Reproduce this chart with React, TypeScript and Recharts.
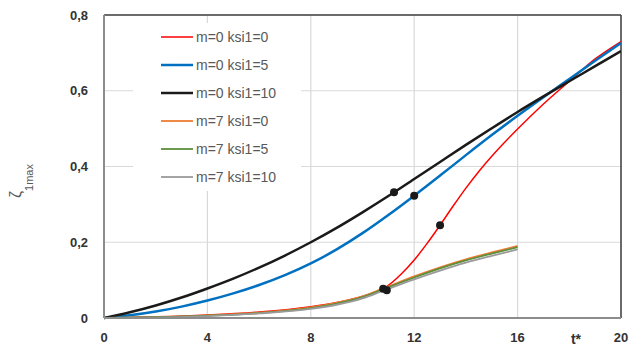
import React from "react";
import {
  ComposedChart,
  Line,
  Scatter,
  XAxis,
  YAxis,
  CartesianGrid,
  ReferenceLine,
  Label,
} from "recharts";

// t* values and zeta_1max readings per series
const tRed = [0, 2, 4, 6, 8, 9, 10, 10.8, 11, 11.5, 12, 12.5, 13, 13.5, 14, 14.5, 15, 15.5, 16, 17, 18, 19, 20];
const vRed = [0, 0.003, 0.008, 0.016, 0.03, 0.041, 0.057, 0.077, 0.086, 0.116, 0.153, 0.197, 0.245, 0.295, 0.343, 0.387, 0.427, 0.464, 0.499, 0.565, 0.625, 0.684, 0.73];

const tBlue = [0, 1, 2, 3, 4, 5, 6, 7, 8, 9, 10, 11, 12, 13, 14, 15, 16, 17, 18, 19, 20];
const vBlue = [0, 0.007, 0.017, 0.03, 0.046, 0.065, 0.087, 0.113, 0.144, 0.181, 0.224, 0.272, 0.323, 0.376, 0.43, 0.483, 0.534, 0.583, 0.631, 0.679, 0.726];

const tBlack = [0, 1, 2, 3, 4, 5, 6, 7, 8, 9, 10, 11, 12, 13, 14, 15, 16, 17, 18, 19, 20];
const vBlack = [0, 0.015, 0.033, 0.054, 0.078, 0.104, 0.133, 0.165, 0.2, 0.238, 0.279, 0.322, 0.367, 0.412, 0.457, 0.501, 0.544, 0.585, 0.625, 0.665, 0.705];

const tM7 = [0, 2, 4, 6, 8, 9, 10, 10.8, 12, 13, 14, 15, 16];
const vOrange = [0, 0.002, 0.007, 0.014, 0.028, 0.04, 0.057, 0.078, 0.11, 0.134, 0.155, 0.173, 0.19];
const vGreen = [0, 0.002, 0.006, 0.013, 0.026, 0.038, 0.055, 0.076, 0.107, 0.131, 0.152, 0.17, 0.187];
const vGray = [0, 0.001, 0.005, 0.012, 0.024, 0.035, 0.052, 0.072, 0.102, 0.125, 0.146, 0.164, 0.181];

// marked points
const tMarks = [10.8, 10.94, 11.22, 12, 13];
const vMarks = [0.077, 0.073, 0.332, 0.323, 0.245];

const xTicks = [0, 4, 8, 12, 16, 20];
const yTicks = [0, 0.2, 0.4, 0.6, 0.8];

const pts = (ts: number[], vs: number[]) => ts.map((t, i) => ({ t, v: vs[i] }));

const series = [
  { name: "m=0 ksi1=0", color: "#ff0000", width: 1.5, data: pts(tRed, vRed) },
  { name: "m=0 ksi1=5", color: "#0070c0", width: 2.5, data: pts(tBlue, vBlue) },
  { name: "m=0 ksi1=10", color: "#1a1a1a", width: 2.5, data: pts(tBlack, vBlack) },
  { name: "m=7 ksi1=0", color: "#ed7d31", width: 1.8, data: pts(tM7, vOrange) },
  { name: "m=7 ksi1=5", color: "#5b8f3a", width: 1.8, data: pts(tM7, vGreen) },
  { name: "m=7 ksi1=10", color: "#9a9a9a", width: 1.8, data: pts(tM7, vGray) },
];

const marks = pts(tMarks, vMarks);

const font = "'Liberation Sans', Arial, sans-serif";

function LegendBox() {
  return (
    <div
      style={{
        position: "absolute",
        left: 133,
        top: 23,
        width: 168,
        background: "#fff",
        paddingLeft: 28,
        boxSizing: "border-box",
      }}
    >
      {series.map((s) => (
        <div key={s.name} style={{ height: 28, display: "flex", alignItems: "center" }}>
          <svg width={32} height={6}>
            <line x1={0} y1={3} x2={32} y2={3} stroke={s.color} strokeWidth={s.width} />
          </svg>
          <span style={{ marginLeft: 3, fontSize: 14, color: "#595959", fontFamily: font, whiteSpace: "nowrap" }}>
            {s.name}
          </span>
        </div>
      ))}
    </div>
  );
}

export default function App() {
  return (
    <div style={{ position: "absolute", left: 0, top: 0, width: 631, height: 348, background: "#fff" }}>
      <ComposedChart width={631} height={348} margin={{ top: 15, right: 10, left: 0, bottom: 0 }}>
        <CartesianGrid stroke="#d9d9d9" strokeWidth={1.2} />
        <XAxis
          dataKey="t"
          type="number"
          domain={[0, 20]}
          ticks={xTicks}
          height={30}
          axisLine={{ stroke: "#8c8c8c", strokeWidth: 2 }}
          tickLine={false}
          tickSize={0}
          tickMargin={15}
          tick={{ fontSize: 13, fontWeight: 700, fill: "#333", fontFamily: font }}
          allowDataOverflow
        >
          <Label
            content={() => (
              <text x={576} y={344} textAnchor="middle" fontSize={14} fontWeight={700} fill="#333" fontFamily={font}>
                t*
              </text>
            )}
          />
        </XAxis>
        <YAxis
          type="number"
          domain={[0, 0.8]}
          ticks={yTicks}
          width={104}
          axisLine={{ stroke: "#8c8c8c", strokeWidth: 2 }}
          tickLine={false}
          tickSize={0}
          tickMargin={16}
          tickFormatter={(v: number) => String(v).replace(".", ",")}
          tick={{ fontSize: 13, fontWeight: 700, fill: "#333", fontFamily: font }}
        >
          <Label
            content={() => (
              <text transform="translate(21,198) rotate(-90)" fill="#595959" fontFamily={font}>
                <tspan fontSize={16}>ζ</tspan>
                <tspan fontSize={11} dy={12}>1max</tspan>
              </text>
            )}
          />
        </YAxis>
        <ReferenceLine y={0.8} stroke="#404040" strokeWidth={1.5} />
        <ReferenceLine x={20} stroke="#404040" strokeWidth={1.5} />
        {series.map((s) => (
          <Line
            key={s.name}
            name={s.name}
            data={s.data}
            dataKey="v"
            type="monotone"
            stroke={s.color}
            strokeWidth={s.width}
            dot={false}
            isAnimationActive={false}
          />
        ))}
        <Scatter
          data={marks}
          dataKey="v"
          legendType="none"
          isAnimationActive={false}
          shape={(p: any) => <circle cx={p.cx} cy={p.cy} r={4} fill="#1a1a1a" />}
        />
      </ComposedChart>
      <LegendBox />
    </div>
  );
}
